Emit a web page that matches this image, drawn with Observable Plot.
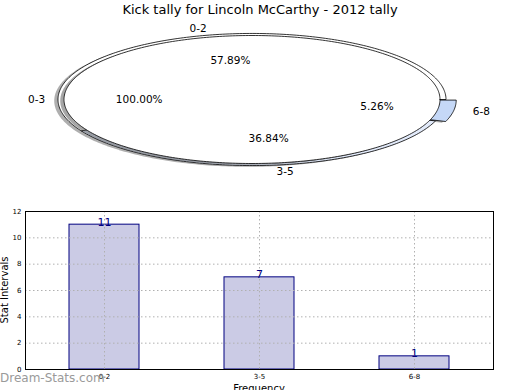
<!DOCTYPE html>
<html><head><meta charset="utf-8">
<script src="https://cdn.jsdelivr.net/npm/d3@7"></script>
<script src="https://cdn.jsdelivr.net/npm/@observablehq/plot@0.6"></script>
<style>
body{margin:0;background:#fff;}
#wrap{position:relative;width:520px;height:390px;overflow:hidden;font-family:"DejaVu Sans",sans-serif;color:#000;}
#pie{position:absolute;left:0;top:0;}
#bar{position:absolute;left:0;top:195px;}
.t{position:absolute;white-space:nowrap;line-height:1;}
</style></head><body>
<div id="wrap">
  <div id="pie"></div>
  <div id="bar"></div>
  <div class="t" style="left:0;width:520px;text-align:center;top:3px;font-size:13px;">Kick tally for Lincoln McCarthy - 2012 tally</div>
  <div class="t" style="left:5px;top:290px;font-size:10px;transform:translate(-50%,-50%) rotate(-90deg);">Stat Intervals</div>
  <div class="t" style="left:259px;top:384px;font-size:10px;transform:translateX(-50%);">Frequency</div>
  <div class="t" style="left:0;top:372px;font-size:12px;color:#9a9a9a;">Dream-Stats.com</div>
</div>
<script>
// ---- data ----
const outerLabels = ["0-2", "3-5", "6-8"];
const outerValues = [11, 7, 1];
const innerLabels = ["0-3"];
const innerValues = [19];
const categories = ["0-2", "3-5", "6-8"];
const barValues = [11, 7, 1];
const yTicks = [0, 2, 4, 6, 8, 10, 12];

// ---- styles ----
const outerColors = ["#ffffff", "#e2eafa", "#c5d8f7"];
const innerColors = ["#ffffff"];
const outerExplode = [0, 0, 0.055];
const R_OUT = 1.032, R_IN = 1.0;

// ---- pie geometry (unit circle, scaled to ellipse by x/y scales) ----
const CX = 251.5, CY = 99, RX = 188, RY = 64, PW = 520, PH = 195;
const xDom = [-CX / RX, (PW - CX) / RX];
const yDom = [-(PH - CY) / RY, CY / RY];

function slices(values, explode) {
  const tot = d3.sum(values);
  let a = 0;
  return values.map((v, i) => {
    const a0 = a, a1 = a + v / tot * 360; a = a1;
    const am = (a0 + a1) / 2 * Math.PI / 180;
    const e = explode ? explode[i] : 0;
    return {i, v, frac: v / tot, a0, a1, am, ox: e * Math.cos(am), oy: e * Math.sin(am)};
  });
}
function wedgePts(s, r, full, dx = 0, dy = 0) {
  const pts = [];
  const n = Math.max(8, Math.ceil(s.a1 - s.a0));
  if (!full) pts.push({x: s.ox + dx, y: s.oy + dy});
  for (let k = 0; k <= n; k++) {
    const t = (s.a0 + (s.a1 - s.a0) * k / n) * Math.PI / 180;
    pts.push({x: s.ox + dx + r * Math.cos(t), y: s.oy + dy + r * Math.sin(t)});
  }
  pts.push({...pts[0]});
  return pts;
}
const outer = slices(outerValues, outerExplode);
const inner = slices(innerValues, null);

const pieMarks = [];
outer.forEach(s => pieMarks.push(Plot.line(wedgePts(s, R_OUT, false, -0.02, -0.02), {x: "x", y: "y", fill: "#4d4d4d", fillOpacity: 0.45, stroke: "none"})));
outer.forEach(s => pieMarks.push(Plot.line(wedgePts(s, R_OUT, false), {x: "x", y: "y", fill: outerColors[s.i], stroke: "black", strokeWidth: 0.8})));
inner.forEach(s => pieMarks.push(Plot.line(wedgePts(s, R_IN, true, -0.02, -0.02), {x: "x", y: "y", fill: "#4d4d4d", fillOpacity: 0.5, stroke: "none"})));
inner.forEach(s => pieMarks.push(Plot.line(wedgePts(s, R_IN, true), {x: "x", y: "y", fill: innerColors[s.i], stroke: "black", strokeWidth: 0.8})));

// labels
const lab = [];
outer.forEach(s => lab.push({t: outerLabels[s.i], r: R_OUT, s}));
inner.forEach(s => lab.push({t: innerLabels[s.i], r: R_IN, s}));
const labRows = lab.map(d => {
  const c = Math.cos(d.s.am), sn = Math.sin(d.s.am);
  return {
    t: d.t, pct: d3.format(".2f")(d.s.frac * 100) + "%",
    lx: d.s.ox + 1.1 * d.r * c, ly: d.s.oy + 1.1 * d.r * sn,
    px: d.s.ox + 0.6 * d.r * c, py: d.s.oy + 0.6 * d.r * sn,
    right: c > 0, nudge: Math.abs(c) < 0.5 ? 7 : 0
  };
});
labRows.forEach(d => {
  pieMarks.push(Plot.text([d], {x: "lx", y: "ly", text: "t", dx: d.nudge, textAnchor: d.right ? "start" : "end", fontSize: 10.5}));
  pieMarks.push(Plot.text([d], {x: "px", y: "py", text: "pct", dx: d.nudge, fontSize: 10.5}));
});

const pie = Plot.plot({
  width: PW, height: PH, margin: 0,
  x: {domain: xDom, axis: null},
  y: {domain: yDom, axis: null},
  style: {fontFamily: "DejaVu Sans", background: "transparent", overflow: "visible"},
  marks: pieMarks
});
document.getElementById("pie").append(pie);

// ---- bar chart ----
const rows = categories.map((c, i) => ({cat: c, v: barValues[i]}));
const bar = Plot.plot({
  width: 520, height: 195,
  marginTop: 16, marginBottom: 21, marginLeft: 25, marginRight: 27,
  x: {type: "band", domain: categories, paddingInner: 0.551, paddingOuter: 0.2756, label: null},
  y: {domain: [0, 12], label: null},
  style: {fontFamily: "DejaVu Sans", background: "transparent", overflow: "visible"},
  marks: [
    Plot.barY(rows, {x: "cat", y: "v", fill: "#cbcbe5", stroke: "#000080", strokeWidth: 1}),
    Plot.gridY(yTicks, {stroke: "#b0b0b0", strokeOpacity: 1, strokeDasharray: "1.5,2.5"}),
    Plot.gridX(categories, {stroke: "#b0b0b0", strokeOpacity: 1, strokeDasharray: "1.5,2.5"}),
    Plot.text(rows, {x: "cat", y: "v", text: d => String(d.v), lineAnchor: "bottom", dy: 1, fill: "#000080", fontSize: 11}),
    Plot.frame({stroke: "black", strokeWidth: 1}),
    Plot.axisY(yTicks, {tickSize: 0, tickPadding: 4, fontSize: 7, tickFormat: d => String(d)}),
    Plot.axisX(categories, {tickSize: 0, tickPadding: 5, fontSize: 7})
  ]
});
document.getElementById("bar").append(bar);
</script>
</body></html>
